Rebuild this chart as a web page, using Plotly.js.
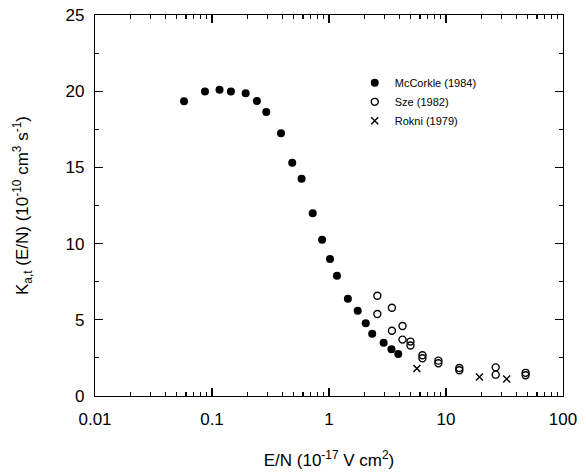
<!DOCTYPE html>
<html>
<head>
<meta charset="utf-8">
<script src="https://cdn.plot.ly/plotly-3.0.1.min.js"></script>
<style>html,body{margin:0;padding:0;background:#fff;}#chart{width:586px;height:472px;}</style>
</head>
<body>
<div id="chart"></div>
<script>
// McCorkle (1984)
const mcX = [0.0577, 0.0871, 0.116, 0.145, 0.194, 0.242, 0.291, 0.389, 0.485, 0.583, 0.726, 0.873, 1.02, 1.17, 1.45, 1.76, 2.06, 2.34, 2.93, 3.42, 3.91];
const mcY = [19.34, 19.98, 20.09, 19.98, 19.87, 19.36, 18.63, 17.24, 15.31, 14.26, 11.99, 10.26, 8.99, 7.89, 6.38, 5.59, 4.78, 4.08, 3.49, 3.07, 2.76];
// Sze (1982)
const szeX = [2.59, 2.59, 3.45, 3.45, 4.25, 4.25, 4.97, 4.97, 6.29, 6.29, 8.61, 8.61, 13.0, 13.0, 26.6, 26.6, 47.9, 47.9];
const szeY = [6.58, 5.38, 5.79, 4.28, 4.59, 3.70, 3.57, 3.31, 2.67, 2.48, 2.32, 2.15, 1.84, 1.69, 1.88, 1.40, 1.52, 1.36];
// Rokni (1979)
const rokX = [5.64, 19.3, 33.0];
const rokY = [1.80, 1.25, 1.12];

const names = ['McCorkle (1984)', 'Sze (1982)', 'Rokni (1979)'];
const xTickVals = [0.01, 0.1, 1, 10, 100];
const xTickText = ['0.01', '0.1', '1', '10', '100'];
const yTickVals = [0, 5, 10, 15, 20, 25];

// minor tick positions on the log axis (2..9 within each decade)
const xMinor = [];
[0.01, 0.1, 1, 10].forEach(d => { for (let k = 2; k <= 9; k++) xMinor.push(d * k); });

const font = {family: 'Liberation Sans, Arial, sans-serif', color: '#000'};

const traces = [
  {x: mcX, y: mcY, name: names[0], mode: 'markers', type: 'scatter',
   marker: {symbol: 'circle', size: 8, color: '#000'}},
  {x: szeX, y: szeY, name: names[1], mode: 'markers', type: 'scatter',
   marker: {symbol: 'circle-open', size: 7, color: '#000', line: {width: 1.4, color: '#000'}}},
  {x: rokX, y: rokY, name: names[2], mode: 'markers', type: 'scatter',
   marker: {symbol: 'x-thin-open', size: 7, color: '#000', line: {width: 1.4, color: '#000'}}},
  // empty helper trace that carries the minor-tick axis
  {x: [], y: [], xaxis: 'x2', yaxis: 'y', mode: 'markers', type: 'scatter', showlegend: false, hoverinfo: 'skip'}
];

const layout = {
  width: 586, height: 472,
  margin: {l: 95, r: 23, t: 15, b: 76},
  paper_bgcolor: '#fff', plot_bgcolor: '#fff',
  font: Object.assign({size: 16}, font),
  showlegend: true,
  legend: {x: 0.555, y: 0.86, xanchor: 'left', yanchor: 'top', bgcolor: 'rgba(0,0,0,0)',
           font: Object.assign({size: 11}, font), tracegroupgap: 0},
  xaxis: {
    type: 'log', range: [-2, 2],
    tickvals: xTickVals, ticktext: xTickText,
    ticks: 'inside', ticklen: 8, tickwidth: 1.2, tickcolor: '#000',
    showline: true, linecolor: '#000', linewidth: 1.2, mirror: 'ticks',
    showgrid: false, zeroline: false,
    tickfont: Object.assign({size: 17}, font),
    ticklabelstandoff: 7,
    title: {text: 'E/N (10<sup>-17</sup> V cm<sup>2</sup>)', font: Object.assign({size: 17}, font), standoff: 26}
  },
  xaxis2: {
    type: 'log', range: [-2, 2], overlaying: 'x', side: 'bottom', anchor: 'y',
    tickvals: xMinor, showticklabels: false,
    ticks: 'inside', ticklen: 4, tickwidth: 1.2, tickcolor: '#000',
    showline: false, mirror: 'ticks', showgrid: false, zeroline: false
  },
  yaxis: {
    range: [0, 25],
    tickvals: yTickVals,
    ticks: 'inside', ticklen: 8, tickwidth: 1.2, tickcolor: '#000',
    minor: {ticks: 'inside', ticklen: 4, dtick: 2.5, tickwidth: 1.2, tickcolor: '#000', showgrid: false},
    showline: true, linecolor: '#000', linewidth: 1.2, mirror: 'ticks',
    showgrid: false, zeroline: false,
    tickfont: Object.assign({size: 17}, font),
    ticklabelstandoff: 6,
    title: {text: 'K<sub>a,t</sub> (E/N) (10<sup>-10</sup> cm<sup>3</sup> s<sup>-1</sup>)', font: Object.assign({size: 17}, font), standoff: 32}
  }
};

Plotly.newPlot('chart', traces, layout, {displayModeBar: false, staticPlot: true});
</script>
</body>
</html>
